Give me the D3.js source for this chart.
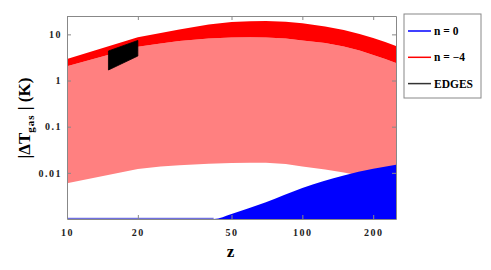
<!DOCTYPE html>
<html>
<head>
<meta charset="utf-8">
<script src="https://cdn.jsdelivr.net/npm/d3@7"></script>
<style>
  body { margin: 0; background: #fff; }
  text { font-family: "Liberation Serif", "Times New Roman", serif; font-weight: bold; }
</style>
</head>
<body>
<script>
// n = -4 band: dark red between redTop and redMid, pink between redMid and redLow
var zRed = [10, 20, 25, 30, 40, 50, 60, 70, 85, 100, 125, 150, 175, 200, 225, 250];
var redTop = [2.93, 8.65, 10.7, 12.8, 16.4, 18.6, 19.3, 19.5, 18.8, 17.4, 14.8, 12.5, 10.2, 8.36, 6.84, 5.61];
var redMid = [2.04, 5.42, 6.35, 7.2, 8.15, 8.57, 8.65, 8.57, 8.15, 7.38, 6.51, 5.47, 4.48, 3.58, 2.93, 2.4];
var redLow = [0.00594, 0.0121, 0.01374, 0.01466, 0.01574, 0.01637, 0.01663, 0.01653, 0.01556, 0.01374, 0.01183, 0.01019, 0.00877, 0.00755, 0.0065, 0.0056];

// n = 0 band (blue)
var zBlue = [10, 20, 30, 42, 50, 70, 100, 150, 200, 250];
var blueTop = [0.0005, 0.0005, 0.0005, 0.001, 0.00129, 0.0023, 0.0047, 0.0088, 0.0122, 0.015];

// EDGES box
var zEdges = [15, 20];
var edgesTop = [4.37, 7.38];
var edgesLow = [1.69, 3.4];

var xTicks = [10, 20, 50, 100, 200];
var yTicks = [0.01, 0.1, 1, 10];
var legendLabels = ["n = 0", "n = \u22124", "EDGES"];
var legendColors = ["#0000ff", "#ff0000", "#333333"];

var svg = d3.select("body").append("svg")
  .attr("width", 491)
  .attr("height", 270);

var margin = {top: 16, left: 67, right: 95, bottom: 51};
var width = 491 - margin.left - margin.right;
var height = 270 - margin.top - margin.bottom;

var x = d3.scaleLog().domain([10, 250]).range([0, width]);
var y = d3.scaleLog().domain([0.001, 25]).range([height, 0]).clamp(true);

var g = svg.append("g")
  .attr("transform", "translate(" + margin.left + "," + margin.top + ")");

g.append("clipPath").attr("id", "clip")
  .append("rect").attr("width", width).attr("height", height);

var plot = g.append("g").attr("clip-path", "url(#clip)");

var band = function(zs, hi, lo, curve) {
  return d3.area()
    .curve(curve)
    .x(function(d, i) { return x(zs[i]); })
    .y0(function(d, i) { return lo ? y(lo[i]) : height; })
    .y1(function(d, i) { return y(hi[i]); })(zs);
};

plot.append("path").attr("d", band(zRed, redMid, redLow, d3.curveLinear)).attr("fill", "#ff8080");
plot.append("path").attr("d", band(zRed, redTop, redMid, d3.curveLinear)).attr("fill", "#ff0000");
plot.append("path").attr("d", band(zBlue, blueTop, null, d3.curveMonotoneX)).attr("fill", "#0000ff");

plot.append("line")
  .attr("x1", x(10)).attr("x2", x(42))
  .attr("y1", height - 0.5).attr("y2", height - 0.5)
  .attr("stroke", "#7070e0").attr("stroke-width", 1.5);

var edgesArea = d3.area()
  .x(function(d, i) { return x(zEdges[i]); })
  .y0(function(d, i) { return y(edgesLow[i]); })
  .y1(function(d, i) { return y(edgesTop[i]); });
plot.append("path").attr("d", edgesArea(zEdges))
  .attr("fill", "#000").attr("stroke", "#000").attr("stroke-width", 0.8);

// frame and ticks
var axisStyle = function(sel) {
  sel.select(".domain").attr("stroke", "#888");
  sel.selectAll(".tick line").attr("stroke", "#888");
  sel.selectAll(".tick text")
    .style("font-size", "10px")
    .style("letter-spacing", "1.5px")
    .attr("fill", "#222");
};

g.append("g")
  .attr("transform", "translate(0," + height + ")")
  .call(d3.axisBottom(x).tickValues(xTicks).tickFormat(d3.format("d")).tickSizeInner(-4).tickSizeOuter(0).tickPadding(10))
  .call(axisStyle);

g.append("g")
  .call(d3.axisTop(x).tickValues(xTicks).tickFormat("").tickSizeInner(-4).tickSizeOuter(0))
  .call(axisStyle);

g.append("g")
  .call(d3.axisLeft(y).tickValues(yTicks).tickFormat(function(d) { return d >= 1 ? d3.format("d")(d) : d3.format("")(d); }).tickSizeInner(-4).tickSizeOuter(0).tickPadding(5))
  .call(axisStyle);

g.append("g")
  .attr("transform", "translate(" + width + ",0)")
  .call(d3.axisRight(y).tickValues(yTicks).tickFormat("").tickSizeInner(-4).tickSizeOuter(0))
  .call(axisStyle);

// axis labels
svg.append("text")
  .attr("x", margin.left + x(50) - 1)
  .attr("y", 257)
  .attr("text-anchor", "middle")
  .style("font-size", "17px")
  .text("z");

var yl = svg.append("text")
  .attr("transform", "translate(30,118) rotate(-90)")
  .attr("text-anchor", "middle")
  .style("font-size", "17px");
yl.append("tspan").text("|\u0394T");
yl.append("tspan").attr("dy", 4).style("font-size", "11px").style("letter-spacing", "1px").text("gas");
yl.append("tspan").attr("dy", -4).text(" | (K)");

// legend
var leg = svg.append("g").attr("transform", "translate(404,14)");
leg.append("rect")
  .attr("width", 77).attr("height", 84)
  .attr("fill", "#fff").attr("stroke", "#888").attr("stroke-width", 1);

var items = leg.selectAll(".item")
  .data(legendLabels)
  .join("g")
  .attr("class", "item")
  .attr("transform", function(d, i) { return "translate(0," + (17 + i * 26.3) + ")"; });

items.append("line")
  .attr("x1", 4).attr("x2", 27)
  .attr("stroke", function(d, i) { return legendColors[i]; })
  .attr("stroke-width", 1.5);

items.append("text")
  .attr("x", 30).attr("y", 4)
  .style("font-size", "11.5px")
  .text(function(d) { return d; });
</script>
</body>
</html>
